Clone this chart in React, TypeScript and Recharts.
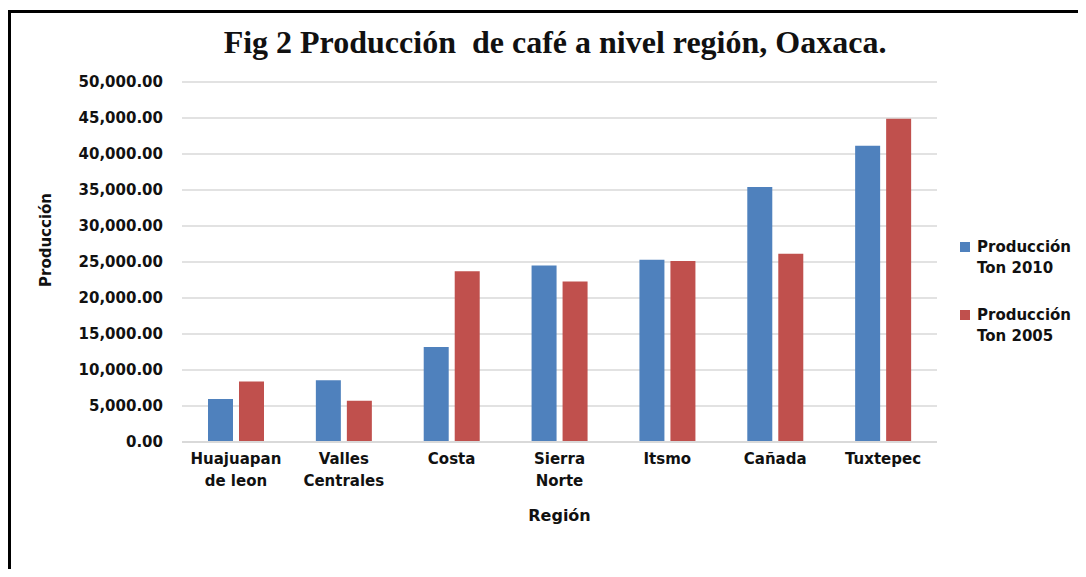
import React from 'react';
import { BarChart, Bar, XAxis, YAxis, CartesianGrid, Legend } from 'recharts';

const regions = ['Huajuapan\nde leon', 'Valles\nCentrales', 'Costa', 'Sierra\nNorte', 'Itsmo', 'Cañada', 'Tuxtepec'];
const prod2010 = [5970, 8560, 13200, 24500, 25300, 35400, 41150];
const prod2005 = [8420, 5740, 23700, 22300, 25150, 26150, 44900];
const yTicks = [0, 5000, 10000, 15000, 20000, 25000, 30000, 35000, 40000, 45000, 50000];

const seriesNames = ['Producción\nTon 2010', 'Producción\nTon 2005'];
const BLUE = '#4F81BD';
const RED = '#C0504D';

const data = regions.map((region, i) => ({
  region,
  p2010: prod2010[i],
  p2005: prod2005[i],
}));

const fmt = (v: number) =>
  v.toLocaleString('en-US', { minimumFractionDigits: 2, maximumFractionDigits: 2 });

const FONT = '"DejaVu Sans", sans-serif';

const CategoryTick = (props: any) => {
  const { x, y, payload } = props;
  const lines = String(payload.value).split('\n');
  return (
    <text x={x} y={y} textAnchor="middle" fontFamily={FONT} fontWeight="bold" fontSize={15} fill="#111">
      {lines.map((l, i) => (
        <tspan key={i} x={x} dy={i === 0 ? 14 : 22}>
          {l}
        </tspan>
      ))}
    </text>
  );
};

const LegendBox = () => {
  const colors = [BLUE, RED];
  return (
    <div style={{ fontFamily: FONT, fontWeight: 'bold', fontSize: 15, color: '#111', textAlign: 'left' }}>
      {seriesNames.map((name, i) => (
        <div key={i} style={{ display: 'flex', alignItems: 'flex-start', marginBottom: i === 0 ? 26 : 0 }}>
          <span style={{ width: 10, height: 10, background: colors[i], marginTop: 5, marginRight: 7, flex: 'none' }} />
          <span style={{ whiteSpace: 'pre', lineHeight: '21px' }}>{name}</span>
        </div>
      ))}
    </div>
  );
};

export default function App() {
  return (
    <div style={{ position: 'relative', width: 1086, height: 577, margin: -8, background: '#fff', overflow: 'hidden' }}>
      <div
        style={{
          position: 'absolute',
          left: 0,
          top: 24,
          width: 1110,
          textAlign: 'center',
          fontFamily: '"Liberation Serif", serif',
          fontWeight: 'bold',
          fontSize: 32,
          color: '#111',
          whiteSpace: 'pre',
        }}
      >
        Fig 2 Producción  de café a nivel región, Oaxaca.
      </div>
      <div style={{ position: 'absolute', left: 0, top: 0 }}>
        <BarChart
          width={1086}
          height={577}
          data={data}
          margin={{ top: 82, right: 23, bottom: 55, left: 82 }}
          barSize={25}
          barGap={6}
        >
          <CartesianGrid vertical={false} stroke="#d9d9d9" strokeWidth={1.5} />
          <XAxis
            dataKey="region"
            height={80}
            interval={0}
            tick={<CategoryTick />}
            tickLine={false}
            axisLine={{ stroke: '#d9d9d9', strokeWidth: 2 }}
            label={{
              value: 'Región',
              position: 'insideBottom',
              offset: 1,
              fontFamily: FONT,
              fontWeight: 'bold',
              fontSize: 16,
              fill: '#111',
            }}
          />
          <YAxis
            width={100}
            domain={[0, 50000]}
            ticks={yTicks}
            tickFormatter={fmt}
            tickLine={false}
            tickSize={0}
            tickMargin={19}
            axisLine={false}
            tick={{ fontFamily: FONT, fontWeight: 'bold', fontSize: 15, fill: '#111' }}
            label={{
              content: () => (
                <text
                  x={46}
                  y={240}
                  transform="rotate(-90, 46, 240)"
                  textAnchor="middle"
                  dominantBaseline="central"
                  fontFamily={FONT}
                  fontWeight="bold"
                  fontSize={15}
                  fill="#111"
                >
                  Producción
                </text>
              ),
            }}
          />
          <Legend
            layout="vertical"
            align="right"
            verticalAlign="middle"
            content={<LegendBox />}
            wrapperStyle={{ position: 'absolute', left: 960, top: 237, width: 126 }}
          />
          <Bar dataKey="p2010" name={seriesNames[0]} fill={BLUE} isAnimationActive={false} />
          <Bar dataKey="p2005" name={seriesNames[1]} fill={RED} isAnimationActive={false} />
        </BarChart>
      </div>
      <svg
        width={1086}
        height={577}
        style={{ position: 'absolute', left: 0, top: 0, zIndex: 5, pointerEvents: 'none' }}
      >
        <path d="M9.5,600 L9.5,11.5 L1100,11.5" fill="none" stroke="#000" strokeWidth={3} />
      </svg>
    </div>
  );
}
